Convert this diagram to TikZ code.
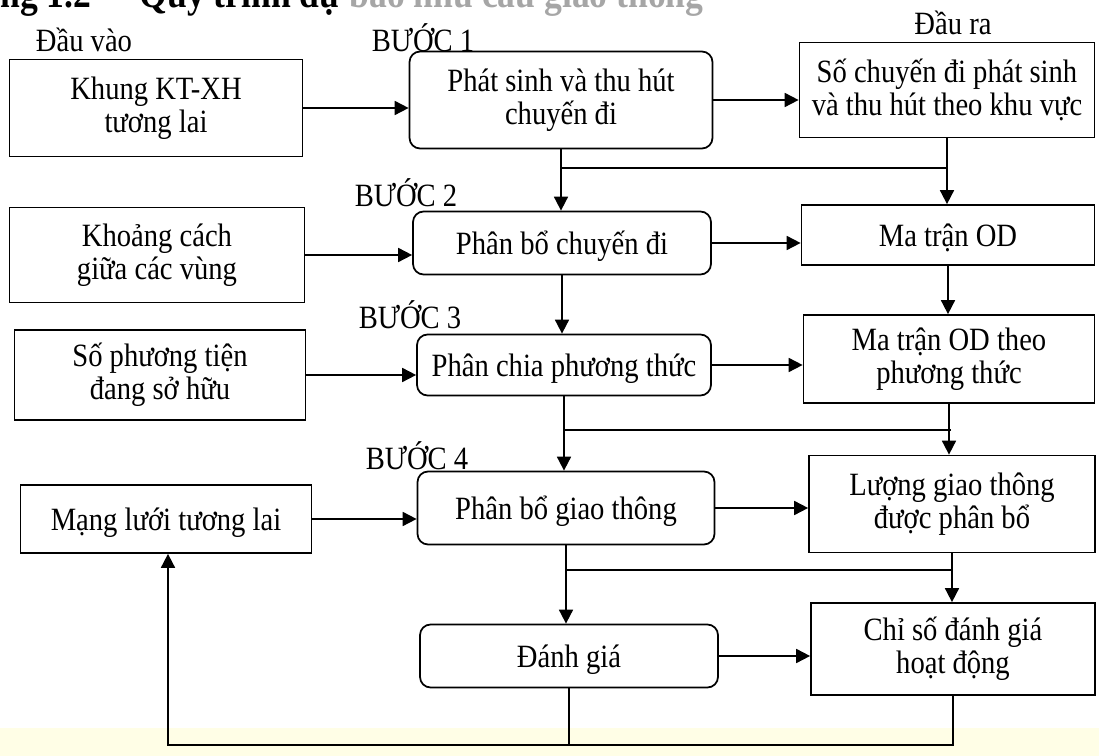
\documentclass[tikz,border=0pt]{standalone}
\usepackage{fontspec}
\setmainfont[FakeStretch=0.88]{Liberation Serif}
\usetikzlibrary{arrows.meta, positioning}
\tikzset{inbox/.style={rectangle,draw,line width=1pt,align=center,inner sep=2pt},stepbox/.style={inbox,rounded corners=6pt},line/.style={-{Triangle[length=2.8mm,width=2.8mm]},line width=1pt},wire/.style={line width=1pt}}

\begin{document}
\begin{tikzpicture}[x=0.02cm,y=-0.02cm,font=\fontsize{18.5}{18.7}\selectfont]
\useasboundingbox (0,0) rectangle (1099,756);
\fill[yellow!10] (0,728) rectangle (1099,756);
\begin{scope}
\clip (0,0) rectangle (1099,756);
\node[anchor=base west, inner sep=0pt, font=\bfseries\fontsize{23}{23}\selectfont] (title) at (0,8) {ng 1.2\hspace{1.2em}Quy trình dự \textcolor{black!35}{báo nhu cầu giao thông}};
\end{scope}
\node (dauvao) at (84,40) {Đầu vào};
\node (buoc1) at (423,38) {BƯỚC 1};
\node (daura) at (953,23) {Đầu ra};
\node (buoc2) at (406,193) {BƯỚC 2};
\node (buoc3) at (410,315) {BƯỚC 3};
\node (buoc4) at (417,456) {BƯỚC 4};
\node[inbox, minimum width=5.86cm, minimum height=1.94cm] (khung) at (156,108) {Khung KT-XH\\tương lai};
\node[inbox, minimum width=5.9cm, minimum height=1.9cm] (khoang) at (157,255) {Khoảng cách\\giữa các vùng};
\node[inbox, minimum width=5.82cm, minimum height=1.8cm] (phuongtien) at (160,375) {Số phương tiện\\đang sở hữu};
\node[inbox, minimum width=5.82cm, minimum height=1.36cm, text depth=0pt] (mangluoi) at (166,519) {Mạng lưới tương lai};
\node[stepbox, minimum width=6.06cm, minimum height=1.94cm] (phatsinh) at (561,100) {Phát sinh và thu hút\\chuyến đi};
\node[stepbox, minimum width=5.96cm, minimum height=1.26cm, text depth=0pt] (phanbo) at (562,243) {Phân bổ chuyến đi};
\node[stepbox, minimum width=5.88cm, minimum height=1.22cm, text depth=0pt] (phanchia) at (564,365) {Phân chia phương thức};
\node[stepbox, minimum width=5.94cm, minimum height=1.46cm, text depth=0pt] (giaothong) at (566,508) {Phân bổ giao thông};
\node[stepbox, minimum width=5.96cm, minimum height=1.26cm, text depth=0pt] (danhgia) at (569,656) {Đánh giá};
\node[inbox, minimum width=5.9cm, minimum height=1.9cm] (sochuyen) at (947,90) {Số chuyến đi phát sinh\\và thu hút theo khu vực};
\node[inbox, minimum width=5.86cm, minimum height=1.2cm, text depth=0pt] (matran) at (948,235) {Ma trận OD};
\node[inbox, minimum width=5.82cm, minimum height=1.76cm] (matranpt) at (949,359) {Ma trận OD theo\\phương thức};
\node[inbox, minimum width=5.72cm, minimum height=1.94cm] (luong) at (952,504) {Lượng giao thông\\được phân bổ};
\node[inbox, minimum width=5.68cm, minimum height=1.84cm] (chiso) at (953,649) {Chỉ số đánh giá\\hoạt động};
\coordinate (j1) at (947,168);
\coordinate (j3) at (951,430);
\coordinate (j4) at (953,570);
\coordinate (fb) at (168,745);
\draw[line] (khung.east) -- (khung.east -| phatsinh.west);
\draw[line] (khoang.east) -- (khoang.east -| phanbo.west);
\draw[line] (phuongtien.east) -- (phuongtien.east -| phanchia.west);
\draw[line] (mangluoi.east) -- (mangluoi.east -| giaothong.west);
\draw[line] (phatsinh.east) -- (phatsinh.east -| sochuyen.west);
\draw[line] (phanbo.east) -- (phanbo.east -| matran.west);
\draw[line] (phanchia.east) -- (phanchia.east -| matranpt.west);
\draw[line] (giaothong.east) -- (giaothong.east -| luong.west);
\draw[line] (danhgia.east) -- (danhgia.east -| chiso.west);
\draw[line] (phatsinh.south) -- (phatsinh.south |- phanbo.north);
\draw[line] (phanbo.south) -- (phanbo.south |- phanchia.north);
\draw[line] (phanchia.south) -- (phanchia.south |- giaothong.north);
\draw[line] (giaothong.south) -- (giaothong.south |- danhgia.north);
\draw[line] (sochuyen.south) -- (sochuyen.south |- matran.north);
\draw[line] (matran.south) -- (matran.south |- matranpt.north);
\draw[line] (matranpt.south) -- (matranpt.south |- luong.north);
\draw[line] (luong.south) -- (luong.south |- chiso.north);
\draw[wire] (j1) -- (j1 -| phatsinh.south);
\draw[wire] (j3) -- (j3 -| phanchia.south);
\draw[wire] (j4) -- (j4 -| giaothong.south);
\draw[wire] (danhgia.south) -- (danhgia.south |- fb);
\draw[line] (chiso.south) |- (fb) -- (fb |- mangluoi.south);
\end{tikzpicture}
\end{document}
